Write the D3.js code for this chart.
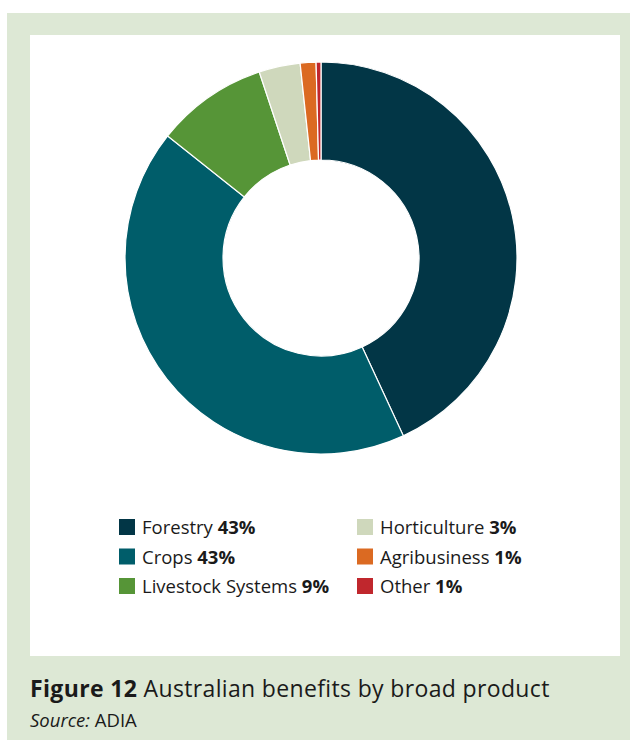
<!DOCTYPE html>
<html>
<head>
<meta charset="utf-8">
<script src="https://cdn.jsdelivr.net/npm/d3@7"></script>
<style>
  body { margin: 0; background: #fff; }
  svg { display: block; font-family: "Open Sans", sans-serif; }
</style>
</head>
<body>
<svg id="chart"></svg>
<script>
// data
var categories = ["Forestry", "Crops", "Livestock Systems", "Horticulture", "Agribusiness", "Other"];
var shares = [43.1, 42.6, 9.2, 3.4, 1.3, 0.4];
var legendLabels = ["43%", "43%", "9%", "3%", "1%", "1%"];
var colours = ["#023646", "#005d6a", "#569537", "#cfd8bc", "#db6a22", "#c0272d"];

var width = 630, height = 740;

var svg = d3.select("#chart")
  .attr("width", width)
  .attr("height", height);

// green frame with white panel
svg.append("rect")
  .attr("x", 7).attr("y", 13)
  .attr("width", width - 7).attr("height", height - 13)
  .attr("fill", "#dde8d5");
svg.append("rect")
  .attr("x", 30).attr("y", 35)
  .attr("width", 590).attr("height", 621)
  .attr("fill", "#ffffff");

var color = d3.scaleOrdinal()
  .domain(categories)
  .range(colours);

var pie = d3.pie()
  .value(function(d, i) { return shares[i]; })
  .sort(null);

var arc = d3.arc()
  .innerRadius(98)
  .outerRadius(196);

var g = svg.append("g")
  .attr("transform", "translate(321,258)");

g.selectAll("path")
  .data(pie(categories))
  .enter()
  .append("path")
  .attr("d", arc)
  .attr("fill", function(d) { return color(d.data); })
  .attr("stroke", "#ffffff")
  .attr("stroke-width", 1.2);

// legend, two columns of three
var legend = svg.append("g");
var items = legend.selectAll("g")
  .data(categories)
  .enter()
  .append("g")
  .attr("transform", function(d, i) {
    var col = Math.floor(i / 3), row = i % 3;
    return "translate(" + (119 + col * 238) + "," + (519 + row * 29.5) + ")";
  });

items.append("rect")
  .attr("width", 16).attr("height", 16)
  .attr("fill", function(d) { return color(d); });

var txt = items.append("text")
  .attr("x", 23).attr("y", 15)
  .style("font-size", "18.5px")
  .attr("fill", "#1a1a1a");
txt.append("tspan").text(function(d) { return d + " "; });
txt.append("tspan")
  .style("font-weight", "bold")
  .text(function(d, i) { return legendLabels[i]; });

// caption
var cap = svg.append("text")
  .attr("x", 30).attr("y", 697)
  .style("font-size", "23px")
  .style("letter-spacing", "0.35px")
  .attr("fill", "#1a1a1a");
cap.append("tspan").style("font-weight", "bold").text("Figure 12");
cap.append("tspan").text(" Australian benefits by broad product");

var src = svg.append("text")
  .attr("x", 30).attr("y", 727)
  .style("font-size", "18.5px")
  .attr("fill", "#1a1a1a");
src.append("tspan").style("font-style", "italic").text("Source:");
src.append("tspan").text(" ADIA");
</script>
</body>
</html>
